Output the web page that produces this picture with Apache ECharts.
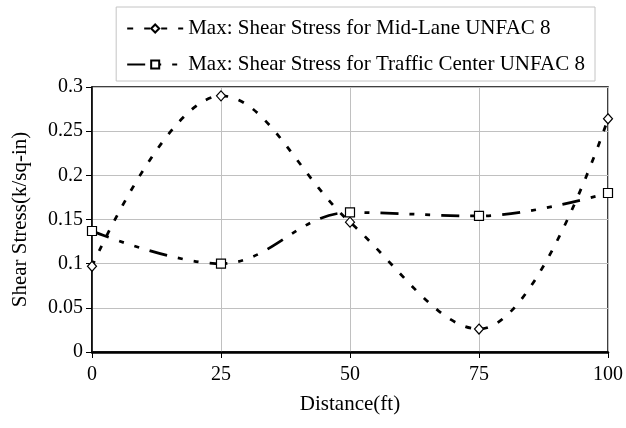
<!DOCTYPE html>
<html>
<head>
<meta charset="utf-8">
<script src="https://cdn.jsdelivr.net/npm/echarts@6/dist/echarts.min.js"></script>
<style>
  html, body { margin: 0; padding: 0; background: #fff; }
  #chart { width: 626px; height: 428px; }
</style>
</head>
<body>
<div id="chart"></div>
<script>
// Distance along the section (ft)
const distances = [0, 25, 50, 75, 100];
// Maximum shear stress (k/sq-in) at each distance
const midLane = [0.097, 0.290, 0.147, 0.026, 0.264];
const trafficCenter = [0.137, 0.100, 0.158, 0.154, 0.180];
const seriesNames = [
  'Max: Shear Stress for Mid-Lane UNFAC 8',
  'Max: Shear Stress for Traffic Center UNFAC 8'
];
const xTicks = [0, 25, 50, 75, 100];
const yTicks = [0, 0.05, 0.1, 0.15, 0.2, 0.25, 0.3];

const font = 'Liberation Serif';
const chart = echarts.init(document.getElementById('chart'), null, { renderer: 'canvas' });

const pairs = (ys) => distances.map((x, i) => [x, ys[i]]);

chart.setOption({
  animation: false,
  backgroundColor: '#fff',
  textStyle: { fontFamily: font, color: '#000' },
  grid: {
    left: 92, right: 17, top: 87, bottom: 76,
    show: true, borderColor: '#000', borderWidth: 1.5
  },
  legend: {
    orient: 'vertical',
    right: 31, top: 7,
    padding: [11, 10, 6, 10],
    itemGap: 15,
    itemWidth: 56, itemHeight: 10,
    borderColor: '#c4c4c4', borderWidth: 1,
    textStyle: { fontFamily: font, fontSize: 21, color: '#000' },
    data: seriesNames
  },
  xAxis: {
    type: 'value', min: 0, max: 100, interval: 25,
    name: 'Distance(ft)', nameLocation: 'middle', nameGap: 42,
    nameTextStyle: { fontFamily: font, fontSize: 21, color: '#000' },
    axisLine: { show: true, lineStyle: { color: '#000', width: 2.5 } },
    axisTick: { show: true, length: 6, lineStyle: { color: '#000' } },
    axisLabel: { fontFamily: font, fontSize: 20, color: '#000', margin: 13,
      formatter: (v) => xTicks.includes(v) ? String(v) : '' },
    splitLine: { show: true, lineStyle: { color: '#c0c0c0', width: 1 } }
  },
  yAxis: {
    type: 'value', min: 0, max: 0.3, interval: 0.05,
    name: 'Shear Stress(k/sq-in)', nameLocation: 'middle', nameGap: 61,
    nameTextStyle: { fontFamily: font, fontSize: 21, color: '#000' },
    axisLine: { show: true, lineStyle: { color: '#000', width: 1.5 } },
    axisTick: { show: true, length: 6, lineStyle: { color: '#000' } },
    axisLabel: { fontFamily: font, fontSize: 20, color: '#000', margin: 9,
      formatter: (v) => {
        const t = yTicks.find(k => Math.abs(k - v) < 1e-9);
        return t === undefined ? '' : String(+t.toFixed(2));
      } },
    splitLine: { show: true, lineStyle: { color: '#c0c0c0', width: 1 } }
  },
  series: [
    {
      name: seriesNames[0], type: 'line', data: pairs(midLane),
      smooth: 0.38, smoothMonotone: null,
      symbol: 'diamond', symbolSize: [9, 10],
      itemStyle: { color: '#fff', borderColor: '#000', borderWidth: 1.2 },
      lineStyle: { color: '#000', width: 2.75, type: [6, 11] },
      z: 3
    },
    {
      name: seriesNames[1], type: 'line', data: pairs(trafficCenter),
      smooth: 0.38,
      symbol: 'rect', symbolSize: 9,
      itemStyle: { color: '#fff', borderColor: '#000', borderWidth: 1.2 },
      lineStyle: { color: '#000', width: 2.75, type: [18, 11, 5, 11, 5, 11] },
      z: 4
    }
  ]
});
</script>
</body>
</html>
